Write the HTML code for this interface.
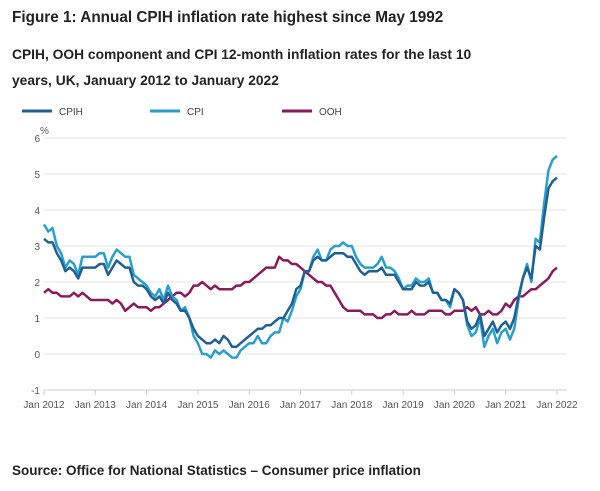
<!DOCTYPE html>
<html><head><meta charset="utf-8"><style>
body{margin:0;background:#fff;font-family:"Liberation Sans",sans-serif;}
.wrap{position:relative;width:600px;height:491px;overflow:hidden;}
.t{position:absolute;left:12px;color:#222;font-weight:bold;}
</style></head><body><div class="wrap">
<div class="t" style="top:9px;font-size:15.3px">Figure 1: Annual CPIH inflation rate highest since May 1992</div>
<div class="t" style="top:42px;font-size:13.8px;line-height:26px">CPIH, OOH component and CPI 12-month inflation rates for the last 10<br>years, UK, January 2012 to January 2022</div>
<svg id="c" width="600" height="491" style="position:absolute;left:0;top:0"></svg>
<div class="t" style="top:463px;font-size:13.5px">Source: Office for National Statistics – Consumer price inflation</div>
</div>
<script>
const yTicks=[-1,0,1,2,3,4,5,6];
const xLabels=["Jan 2012","Jan 2013","Jan 2014","Jan 2015","Jan 2016","Jan 2017","Jan 2018","Jan 2019","Jan 2020","Jan 2021","Jan 2022"];
const cpih=[3.2,3.1,3.1,2.8,2.6,2.3,2.4,2.3,2.1,2.4,2.4,2.4,
2.4,2.5,2.5,2.2,2.4,2.6,2.5,2.4,2.4,2.0,1.9,1.9,
1.8,1.6,1.5,1.6,1.4,1.7,1.5,1.4,1.2,1.2,1.0,0.7,
0.5,0.4,0.3,0.3,0.4,0.3,0.5,0.4,0.2,0.2,0.3,0.4,
0.5,0.6,0.7,0.7,0.8,0.8,0.9,1.0,1.0,1.2,1.4,1.8,
1.9,2.3,2.3,2.6,2.7,2.6,2.6,2.7,2.8,2.8,2.8,2.7,
2.7,2.5,2.3,2.2,2.3,2.3,2.3,2.4,2.2,2.2,2.2,2.0,
1.8,1.8,1.8,2.0,1.9,1.9,2.0,1.7,1.7,1.5,1.5,1.4,
1.8,1.7,1.5,0.9,0.7,0.8,1.1,0.5,0.7,0.9,0.6,0.8,
0.9,0.7,1.0,1.6,2.1,2.4,2.1,3.0,2.9,3.8,4.6,4.8,4.9];
const cpi=[3.6,3.4,3.5,3.0,2.8,2.4,2.6,2.5,2.2,2.7,2.7,2.7,
2.7,2.8,2.8,2.4,2.7,2.9,2.8,2.7,2.7,2.2,2.1,2.0,
1.9,1.7,1.6,1.8,1.5,1.9,1.6,1.5,1.2,1.3,1.0,0.5,
0.3,0.0,0.0,-0.1,0.1,0.0,0.1,0.0,-0.1,-0.1,0.1,0.2,
0.3,0.3,0.5,0.3,0.3,0.5,0.6,0.6,1.0,0.9,1.2,1.6,
1.8,2.3,2.3,2.7,2.9,2.6,2.6,2.9,3.0,3.0,3.1,3.0,
3.0,2.7,2.5,2.4,2.4,2.4,2.5,2.7,2.4,2.4,2.3,2.1,
1.8,1.9,1.9,2.1,2.0,2.0,2.1,1.7,1.7,1.5,1.5,1.3,
1.8,1.7,1.5,0.8,0.5,0.6,1.0,0.2,0.5,0.7,0.3,0.6,
0.7,0.4,0.7,1.5,2.1,2.5,2.0,3.2,3.1,4.2,5.1,5.4,5.5];
const ooh=[1.7,1.8,1.7,1.7,1.6,1.6,1.6,1.7,1.6,1.7,1.6,1.5,
1.5,1.5,1.5,1.5,1.4,1.5,1.4,1.2,1.3,1.4,1.3,1.3,
1.3,1.2,1.3,1.3,1.4,1.5,1.6,1.7,1.7,1.6,1.7,1.9,
1.9,2.0,1.9,1.8,1.9,1.8,1.8,1.8,1.8,1.9,1.9,2.0,
2.0,2.1,2.2,2.3,2.4,2.4,2.4,2.7,2.6,2.6,2.5,2.5,
2.4,2.3,2.2,2.1,2.0,2.0,1.9,1.9,1.7,1.5,1.3,1.2,
1.2,1.2,1.2,1.1,1.1,1.1,1.0,1.0,1.1,1.1,1.2,1.1,
1.1,1.1,1.2,1.1,1.1,1.1,1.2,1.2,1.2,1.2,1.1,1.1,
1.2,1.2,1.2,1.3,1.2,1.3,1.1,1.1,1.2,1.1,1.1,1.2,
1.4,1.3,1.5,1.6,1.6,1.7,1.8,1.8,1.9,2.0,2.1,2.3,2.4];
const NS="http://www.w3.org/2000/svg",svg=document.getElementById('c');
const X0=44,X1=557,Y0=354,U=36;
const xs=i=>X0+(X1-X0)*i/120, ys=v=>Y0-v*U;
function mk(t,a,p){const e=document.createElementNS(NS,t);for(const k in a)e.setAttribute(k,a[k]);(p||svg).appendChild(e);return e;}
yTicks.forEach(v=>{
 const g=mk('line',{x1:X0,x2:X1+10,y1:ys(v),y2:ys(v),stroke:v===-1?'#ccc':'#e6e6e6','stroke-width':1});
 
 
 const t=mk('text',{x:40,y:ys(v)+4,'font-size':10,fill:'#555','text-anchor':'end'});t.textContent=v;
 
 
});
const pc=mk('text',{x:40,y:134,'font-size':10,fill:'#555'});pc.textContent='%';


xLabels.forEach((l,k)=>{
 const x=xs(k*12);
 const tk=mk('line',{x1:x,x2:x,y1:390,y2:395,stroke:'#ccc'});
 
 
 const t=mk('text',{x:x,y:408,'font-size':10,fill:'#555','text-anchor':'middle'});t.textContent=l;
 
 
});
function line(arr,col,name){
 const p=mk('polyline',{points:arr.map((v,i)=>xs(i)+','+ys(v)).join(' '),fill:'none',stroke:col,'stroke-width':2.5,'stroke-linejoin':'round'});
 
 
}
line(ooh,'#8b1a5c','ooh-line');
line(cpi,'#27a0cc','cpi-line');
line(cpih,'#206095','cpih-line');
[['CPIH','#206095',22],['CPI','#27a0cc',150],['OOH','#8b1a5c',282]].forEach(([n,c,x])=>{
 const g=mk('g',{});
 
 
 mk('line',{x1:x,x2:x+30,y1:111,y2:111,stroke:c,'stroke-width':3},g);
 const t=mk('text',{x:x+37,y:115,'font-size':10,fill:'#444'},g);t.textContent=n;
});
</script></body></html>
